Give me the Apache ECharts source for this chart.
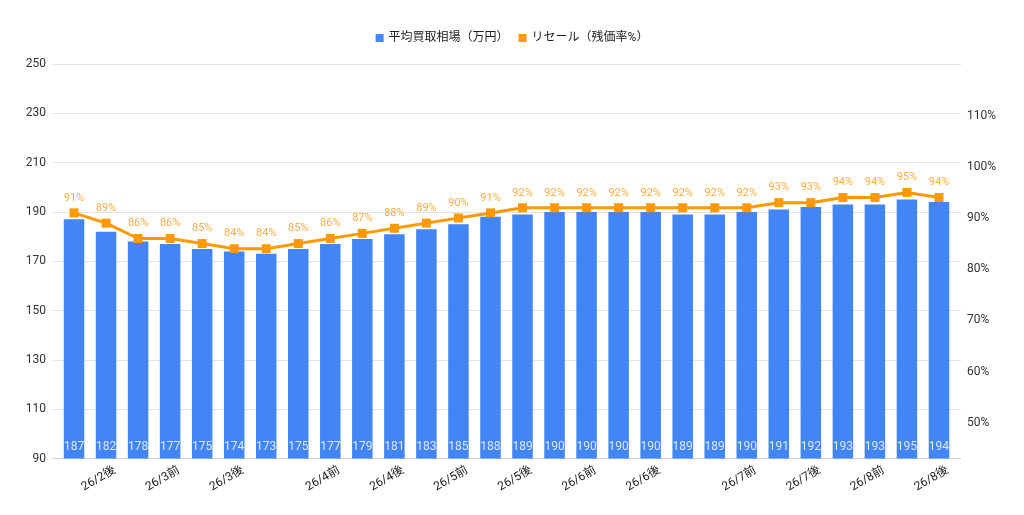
<!DOCTYPE html>
<html>
<head>
<meta charset="utf-8">
<script src="https://cdn.jsdelivr.net/npm/echarts@6/dist/echarts.min.js"></script>
<style>
  html, body { margin: 0; padding: 0; background: #fff; }
  #chart { width: 1024px; height: 515px; }
</style>
</head>
<body>
<div id="chart"></div>
<script>
// only some category names are printed on the axis
const categories = [
  '', '26/2後', '', '26/3前', '', '26/3後', '', '',
  '26/4前', '', '26/4後', '', '26/5前', '', '26/5後', '',
  '26/6前', '', '26/6後', '', '', '26/7前', '', '26/7後',
  '', '26/8前', '', '26/8後'
];
const price = [
  187, 182, 178, 177, 175, 174, 173, 175, 177, 179, 181, 183, 185, 188,
  189, 190, 190, 190, 190, 189, 189, 190, 191, 192, 193, 193, 195, 194
];
const resale = [
  91, 89, 86, 86, 85, 84, 84, 85, 86, 87, 88, 89, 90, 91,
  92, 92, 92, 92, 92, 92, 92, 92, 93, 93, 94, 94, 95, 94
];
const rightTicks = [50, 60, 70, 80, 90, 100, 110];

const FONT = 'Roboto, "Noto Sans CJK JP", sans-serif';
const LEFT = { min: 90, max: 250 };
const RIGHT = { min: 43, max: 120.1 };

const chart = echarts.init(document.getElementById('chart'));

chart.setOption({
  animation: false,
  textStyle: { fontFamily: FONT },
  legend: {
    top: 27,
    left: 'center',
    icon: 'rect',
    itemWidth: 8,
    itemHeight: 8,
    itemGap: 10,
    textStyle: { fontSize: 12, color: '#222', fontFamily: FONT }
  },
  // grid 0 carries the gridlines and axis labels, grid 1 the bars and line
  grid: [
    { left: 53, right: 63, top: 64, bottom: 56.5 },
    { left: 58, right: 69, top: 64, bottom: 56.5 }
  ],
  xAxis: [
    {
      gridIndex: 0,
      type: 'value',
      min: 0,
      max: 1,
      axisLine: { show: true, onZero: false, lineStyle: { color: '#d0d0d0' } },
      axisTick: { show: false },
      axisLabel: { show: false },
      splitLine: { show: false }
    },
    {
      gridIndex: 1,
      type: 'category',
      data: categories,
      axisLine: { show: false },
      axisTick: { show: false },
      axisLabel: {
        interval: 0,
        rotate: 30,
        align: 'center',
        verticalAlign: 'middle',
        padding: [0, 17, 0, 0],
        margin: 16,
        fontSize: 12,
        color: '#222'
      }
    }
  ],
  yAxis: [
    {
      gridIndex: 0,
      type: 'value',
      min: LEFT.min,
      max: LEFT.max,
      interval: 20,
      axisLine: { show: false },
      axisTick: { show: false },
      axisLabel: { fontSize: 12, color: '#333', margin: 7 },
      splitLine: { lineStyle: { color: '#e3e3e3' } }
    },
    {
      gridIndex: 0,
      type: 'value',
      position: 'right',
      min: RIGHT.min,
      max: RIGHT.max,
      axisLine: { show: false },
      axisTick: { show: false },
      splitLine: { show: false },
      axisLabel: {
        customValues: rightTicks,
        formatter: '{value}%',
        fontSize: 12,
        color: '#333',
        margin: 6
      }
    },
    {
      gridIndex: 1,
      type: 'value',
      min: LEFT.min,
      max: LEFT.max,
      show: false
    },
    {
      gridIndex: 1,
      type: 'value',
      position: 'right',
      min: RIGHT.min,
      max: RIGHT.max,
      show: false
    }
  ],
  series: [
    {
      name: '平均買取相場（万円）',
      type: 'bar',
      xAxisIndex: 1,
      yAxisIndex: 2,
      data: price,
      barWidth: 20.5,
      itemStyle: { color: '#4285F4' },
      label: {
        show: true,
        position: 'insideBottom',
        distance: 5,
        fontSize: 12,
        color: '#dce8fd'
      }
    },
    {
      name: 'リセール（残価率%）',
      type: 'line',
      xAxisIndex: 1,
      yAxisIndex: 3,
      data: resale,
      symbol: 'rect',
      symbolSize: 9,
      lineStyle: { color: '#FF9900', width: 3 },
      itemStyle: { color: '#FF9900' },
      label: {
        show: true,
        position: 'top',
        distance: 5,
        fontSize: 11,
        color: '#ffad42',
        formatter: p => p.value + '%'
      }
    }
  ]
});
</script>
</body>
</html>
